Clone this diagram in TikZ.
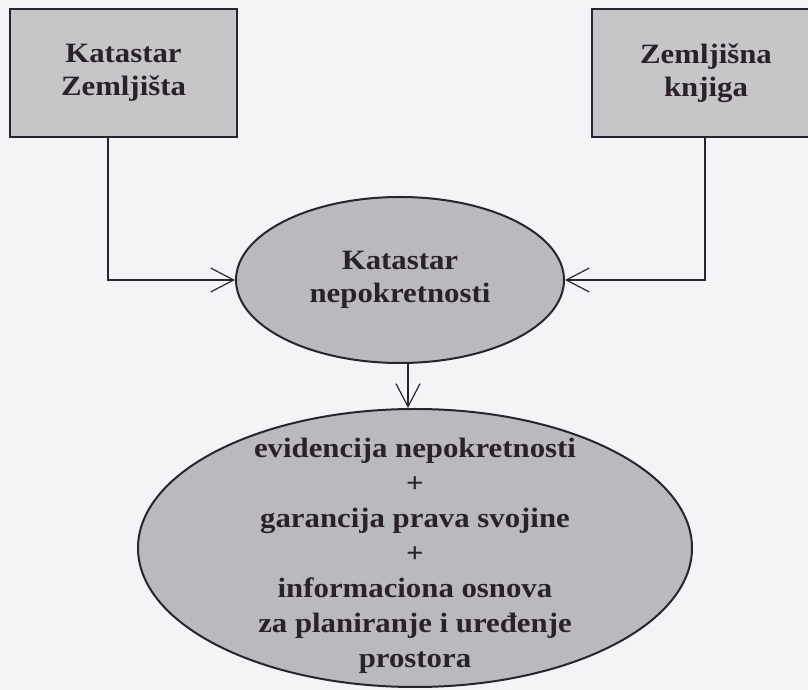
\documentclass[tikz,border=0pt]{standalone}
\usepackage{fontspec}
\setmainfont{Liberation Serif}[FakeStretch=1.1]
\usetikzlibrary{shapes.geometric,arrows.meta}
\definecolor{bgcol}{HTML}{F4F4F6}
\definecolor{boxfill}{HTML}{C6C6C9}
\definecolor{ellfill}{HTML}{BABABE}
\definecolor{linecol}{HTML}{2A2430}
\definecolor{txtcol}{HTML}{2A2228}
\tikzset{
  rbox/.style={draw=linecol, line width=2pt, fill=boxfill, rectangle, inner sep=0pt,
    minimum width=227pt, minimum height=128pt, align=center, text=txtcol,
    font=\fontsize{28}{33}\selectfont\bfseries},
  oval/.style={draw=linecol, line width=2pt, fill=ellfill, ellipse, inner sep=0pt},
  ovaltext/.style={align=center, text=txtcol, inner sep=0pt},
  arr/.style={draw=linecol, line width=1.2pt, -{Straight Barb[length=23pt,width=24pt,line width=1.2pt]}}
}
\begin{document}
\begin{tikzpicture}[x=1pt,y=1pt]
\useasboundingbox (0,0) rectangle (808,690);
\fill[bgcol] (0,0) rectangle (808,690);
\node[rbox] (lb) at (123.5,617) {Katastar\\Zemljišta};
\node[rbox, minimum width=228pt] (rb) at (706,617) {Zemljišna\\knjiga};
\node[oval, minimum width=328pt, minimum height=166pt] (e1) at (400,410) {};
\node[ovaltext, font=\fontsize{28}{33}\selectfont\bfseries] (t1) at (e1) {Katastar\\nepokretnosti};
\node[oval, minimum width=554pt, minimum height=278pt] (e2) at (415,142) {};
\node[ovaltext, font=\fontsize{28}{35}\selectfont\bfseries] (t2) at ([yshift=-8pt]e2.center)
  {evidencija nepokretnosti\\+\\garancija prava svojine\\+\\informaciona osnova\\za planiranje i uređenje\\prostora};
\draw[arr] ([xshift=-15.5pt]lb.south) |- (e1.west);
\draw[arr] ([xshift=-1pt]rb.south) |- (e1.east);
\draw[arr] ([xshift=8pt]e1.south) -- ([xshift=-7pt]e2.north);
\end{tikzpicture}
\end{document}
